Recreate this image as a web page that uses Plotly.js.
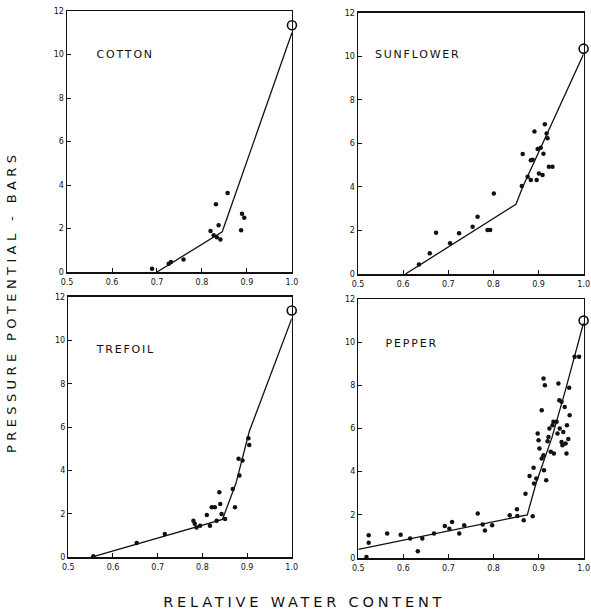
<!DOCTYPE html>
<html>
<head>
<meta charset="utf-8">
<script src="https://cdn.plot.ly/plotly-3.0.1.min.js"></script>
<style>
html,body{margin:0;padding:0;background:#fff;}
#chart{width:591px;height:614px;}
g.annotation[data-index="0"] text, g.annotation[data-index="1"] text,
g.annotation[data-index="2"] text, g.annotation[data-index="3"] text {letter-spacing:1.8px;}
g.annotation[data-index="4"] text {letter-spacing:3.8px;}
g.annotation[data-index="5"] text {letter-spacing:4.4px;}
</style>
</head>
<body>
<div id="chart"></div>
<script>
// ---- COTTON ----
const cottonX = [0.689, 0.726, 0.731, 0.759, 0.819, 0.826, 0.831, 0.837, 0.841, 0.833, 0.857, 0.887, 0.889, 0.894];
const cottonY = [0.15, 0.38, 0.46, 0.57, 1.89, 1.69, 3.11, 2.15, 1.49, 1.60, 3.63, 1.92, 2.68, 2.50];
const cottonLineX = [0.70, 0.845, 1.0];
const cottonLineY = [0.0, 1.85, 11.0];
const cottonOpenX = [1.0];
const cottonOpenY = [11.35];

// ---- SUNFLOWER ----
const sunX = [0.635, 0.659, 0.673, 0.704, 0.724, 0.754, 0.765, 0.787, 0.793, 0.801, 0.863, 0.865, 0.876, 0.883, 0.887, 0.891, 0.883, 0.896, 0.901, 0.898, 0.905, 0.911, 0.914, 0.920, 0.918, 0.923, 0.931, 0.909];
const sunY = [0.44, 0.95, 1.90, 1.41, 1.87, 2.17, 2.63, 2.02, 2.02, 3.70, 4.04, 5.51, 4.47, 5.23, 5.25, 6.55, 4.32, 4.32, 4.62, 5.74, 5.80, 5.52, 6.88, 6.23, 6.45, 4.93, 4.93, 4.55];
const sunLineX = [0.605, 0.85, 0.865, 1.0];
const sunLineY = [0.0, 3.2, 4.0, 10.1];
const sunOpenX = [1.0];
const sunOpenY = [10.35];

// ---- TREFOIL ----
const trefX = [0.556, 0.653, 0.716, 0.780, 0.783, 0.787, 0.795, 0.810, 0.817, 0.821, 0.828, 0.832, 0.838, 0.840, 0.843, 0.851, 0.868, 0.873, 0.883, 0.881, 0.890, 0.903, 0.905];
const trefY = [0.05, 0.66, 1.08, 1.69, 1.55, 1.38, 1.46, 1.95, 1.46, 2.31, 2.31, 1.69, 3.00, 2.46, 2.00, 1.77, 3.15, 2.31, 3.77, 4.54, 4.46, 5.49, 5.18];
const trefLineX = [0.55, 0.845, 0.875, 0.905, 1.0];
const trefLineY = [0.0, 1.75, 3.4, 5.8, 11.0];
const trefOpenX = [1.0];
const trefOpenY = [11.38];

// ---- PEPPER ----
const pepX = [0.518, 0.523, 0.523, 0.564, 0.594, 0.615, 0.632, 0.642, 0.668, 0.692, 0.702, 0.708, 0.724, 0.735, 0.765, 0.776, 0.781, 0.797, 0.836, 0.852, 0.853, 0.867, 0.871, 0.880, 0.887, 0.889, 0.890, 0.895, 0.898, 0.900, 0.902, 0.907, 0.907, 0.911, 0.912, 0.911, 0.914, 0.917, 0.920, 0.922, 0.924, 0.927, 0.931, 0.933, 0.934, 0.940, 0.944, 0.946, 0.947, 0.951, 0.953, 0.955, 0.958, 0.960, 0.962, 0.963, 0.966, 0.968, 0.969, 0.942, 0.951, 0.980, 0.990];
const pepY = [0.05, 1.05, 0.71, 1.13, 1.08, 0.90, 0.31, 0.90, 1.13, 1.48, 1.36, 1.67, 1.13, 1.52, 2.06, 1.55, 1.28, 1.52, 1.98, 2.26, 1.95, 1.75, 2.98, 3.80, 1.93, 4.18, 3.45, 3.68, 5.77, 5.46, 5.07, 6.85, 4.61, 4.76, 4.07, 8.32, 8.01, 3.60, 5.41, 5.61, 6.00, 4.92, 6.15, 6.31, 4.84, 6.31, 8.09, 7.31, 6.00, 7.24, 5.23, 5.84, 7.00, 5.30, 4.84, 6.15, 5.51, 7.89, 6.62, 5.77, 5.38, 9.33, 9.33];
const pepLineX = [0.5, 0.875, 0.895, 0.93, 0.96, 1.0];
const pepLineY = [0.4, 2.0, 3.5, 5.6, 7.8, 10.9];
const pepOpenX = [1.0];
const pepOpenY = [11.0];

const panelNames = ["COTTON", "SUNFLOWER", "TREFOIL", "PEPPER"];
const panelLabelX = [0.574, 0.551, 0.571, 0.567];
const panelLabelY = [10.0, 10.1, 9.6, 9.94];
const xTickVals = [0.5, 0.6, 0.7, 0.8, 0.9, 1.0];
const xTickText = ["0.5", "0.6", "0.7", "0.8", "0.9", "1.0"];
const yTickVals = [0, 2, 4, 6, 8, 10, 12];
const yTickText = ["0", "2", "4", "6", "8", "10", "12"];
const xTitle = "RELATIVE WATER CONTENT";
const yTitle = "PRESSURE POTENTIAL - BARS";

const panels = [
  {x: cottonX, y: cottonY, lx: cottonLineX, ly: cottonLineY, ox: cottonOpenX, oy: cottonOpenY},
  {x: sunX, y: sunY, lx: sunLineX, ly: sunLineY, ox: sunOpenX, oy: sunOpenY},
  {x: trefX, y: trefY, lx: trefLineX, ly: trefLineY, ox: trefOpenX, oy: trefOpenY},
  {x: pepX, y: pepY, lx: pepLineX, ly: pepLineY, ox: pepOpenX, oy: pepOpenY}
];

const traces = [];
panels.forEach((p, i) => {
  const xa = i === 0 ? 'x' : 'x' + (i + 1);
  const ya = i === 0 ? 'y' : 'y' + (i + 1);
  traces.push({x: p.lx, y: p.ly, xaxis: xa, yaxis: ya, mode: 'lines', type: 'scatter',
    line: {color: '#111', width: 1.3}, cliponaxis: false, hoverinfo: 'skip'});
  traces.push({x: p.x, y: p.y, xaxis: xa, yaxis: ya, mode: 'markers', type: 'scatter',
    marker: {color: '#111', size: 4.5, symbol: 'circle'}, cliponaxis: false});
  traces.push({x: p.ox, y: p.oy, xaxis: xa, yaxis: ya, mode: 'markers', type: 'scatter',
    marker: {color: '#111', size: 9, symbol: 'circle-open', line: {color: '#111', width: 1.6}}, cliponaxis: false});
});

const xDomains = [[0.1134, 0.494], [0.6058, 0.9875], [0.1156, 0.4936], [0.6063, 0.9875]];
const yDomains = [[0.557, 0.982], [0.5537, 0.9793], [0.0923, 0.5163], [0.0912, 0.513]];

const tickFont = {family: 'DejaVu Sans', size: 8, color: '#111'};
const layout = {
  width: 591, height: 614,
  margin: {l: 0, r: 0, t: 0, b: 0},
  paper_bgcolor: '#fff', plot_bgcolor: '#fff',
  showlegend: false,
  annotations: []
};
for (let i = 0; i < 4; i++) {
  const s = i === 0 ? '' : String(i + 1);
  layout['xaxis' + s] = {
    domain: xDomains[i], range: [0.5, 1.0], anchor: 'y' + s,
    tickmode: 'array', tickvals: xTickVals, ticktext: xTickText,
    ticks: 'inside', ticklen: 4, tickwidth: 1, tickcolor: '#111',
    showgrid: false, zeroline: false, showline: true, mirror: true,
    linecolor: '#111', linewidth: 1.5, tickfont: tickFont, ticklabelstandoff: 2,
    ticklabeloverflow: 'allow'
  };
  layout['yaxis' + s] = {
    domain: yDomains[i], range: [0, 12], anchor: 'x' + s,
    tickmode: 'array', tickvals: yTickVals, ticktext: yTickText,
    ticks: 'inside', ticklen: 4, tickwidth: 1, tickcolor: '#111',
    showgrid: false, zeroline: false, showline: true, mirror: true,
    linecolor: '#111', linewidth: 1.5, tickfont: tickFont,
    ticklabeloverflow: 'allow'
  };
  layout.annotations.push({
    text: panelNames[i], xref: 'x' + s, yref: 'y' + s,
    x: panelLabelX[i], y: panelLabelY[i], xanchor: 'left', yanchor: 'middle',
    showarrow: false, font: {family: 'DejaVu Sans', size: 11, color: '#111'}
  });
}
layout.annotations.push({
  text: xTitle, xref: 'paper', yref: 'paper', x: 0.515, y: 1 - 602 / 614,
  xanchor: 'center', yanchor: 'middle', showarrow: false,
  font: {family: 'DejaVu Sans', size: 14.5, color: '#111'}
});
layout.annotations.push({
  text: yTitle, xref: 'paper', yref: 'paper', x: 11 / 591, y: 1 - 302 / 614,
  xanchor: 'center', yanchor: 'middle', showarrow: false, textangle: -90,
  font: {family: 'DejaVu Sans', size: 13, color: '#111'}
});

Plotly.newPlot('chart', traces, layout, {staticPlot: true, displayModeBar: false});
</script>
</body>
</html>
